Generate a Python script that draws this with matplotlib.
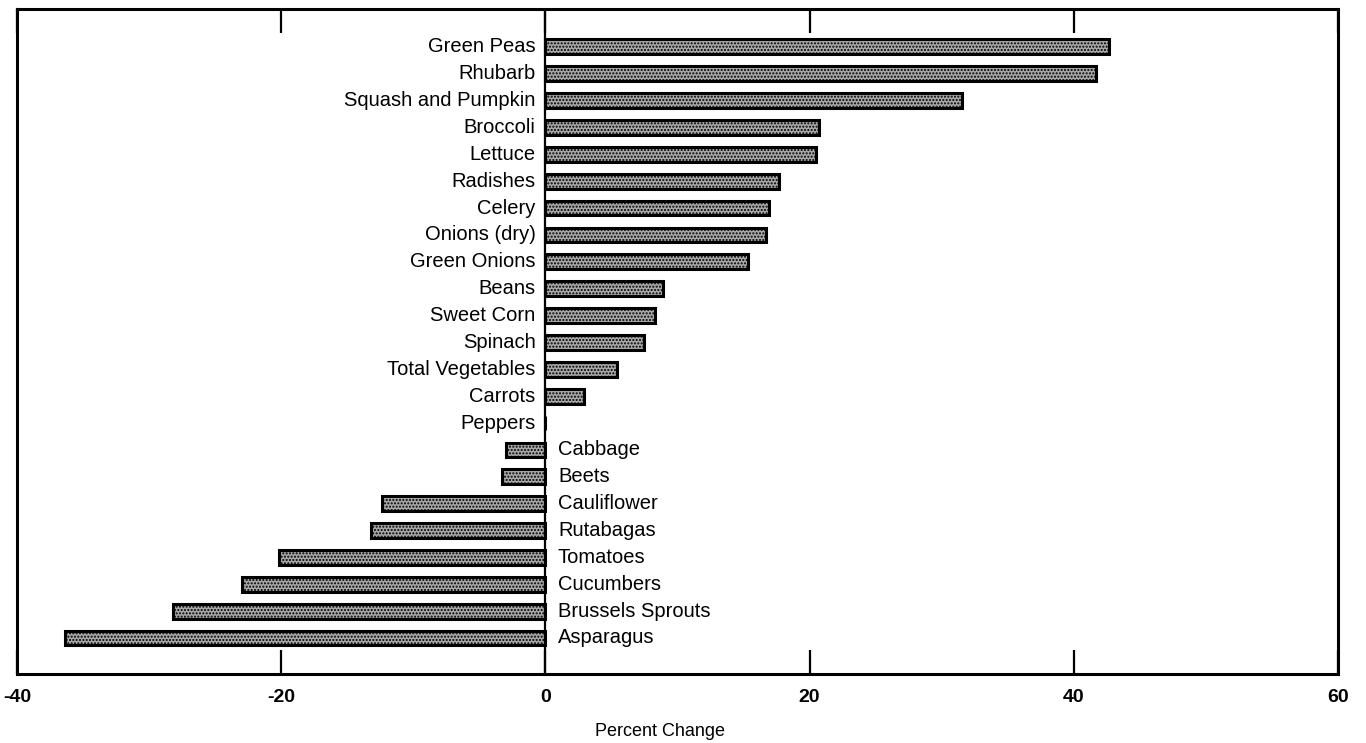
# Percent change in vegetable consumption, horizontal bar chart

import matplotlib
matplotlib.use('Agg')
from matplotlib import pyplot as plt

plt.rcParams['font.family'] = ['Liberation Sans', 'DejaVu Sans']
plt.rcParams['hatch.linewidth'] = 1.0

# Data (top to bottom)
vegetables = ["Green Peas", "Rhubarb", "Squash and Pumpkin", "Broccoli", "Lettuce",
              "Radishes", "Celery", "Onions (dry)", "Green Onions", "Beans",
              "Sweet Corn", "Spinach", "Total Vegetables", "Carrots", "Peppers",
              "Cabbage", "Beets", "Cauliflower", "Rutabagas", "Tomatoes",
              "Cucumbers", "Brussels Sprouts", "Asparagus"]
change = [42.7, 41.7, 31.5, 20.7, 20.5,
          17.7, 16.9, 16.7, 15.3, 8.9,
          8.3, 7.5, 5.4, 2.9, 0.0,
          -3.0, -3.3, -12.4, -13.2, -20.2,
          -23.0, -28.2, -36.4]
x_ticks = [-40, -20, 0, 20, 40, 60]

n = len(vegetables)
ypos = [n - 1 - i for i in range(n)]

fig = plt.figure(figsize=(13.66, 7.43), dpi=100)
ax = fig.add_axes([17 / 1366, (743 - 674) / 743, (1338 - 17) / 1366, (674 - 9) / 743])

ax.barh(ypos, change, height=0.55, color='#a8a8a8', edgecolor='black',
        linewidth=2.2, hatch='.....')

ax.axvline(0, color='black', linewidth=1.6)

for y, name, v in zip(ypos, vegetables, change):
    if v >= 0:
        ax.annotate(name, (0, y), xytext=(-7, 0), textcoords='offset points',
                    ha='right', va='center', fontsize=14.5)
    else:
        ax.annotate(name, (0, y), xytext=(9, 0), textcoords='offset points',
                    ha='left', va='center', fontsize=14.5)

ax.set_xlim(-40, 60)
ax.set_ylim(-1.34, n - 1 + 1.41)
ax.set_yticks([])
ax.set_xticks(x_ticks)
ax.set_xticklabels([str(t) for t in x_ticks], fontsize=14, fontweight='bold')
ax.tick_params(axis='x', direction='in', top=True, length=17, width=1.6, pad=11)

for s in ax.spines.values():
    s.set_linewidth(2.2)

fig.text(660 / 1366, 1 - 731 / 743, 'Percent Change', ha='center', va='center', fontsize=13)

fig.savefig('out.png', dpi=100)
